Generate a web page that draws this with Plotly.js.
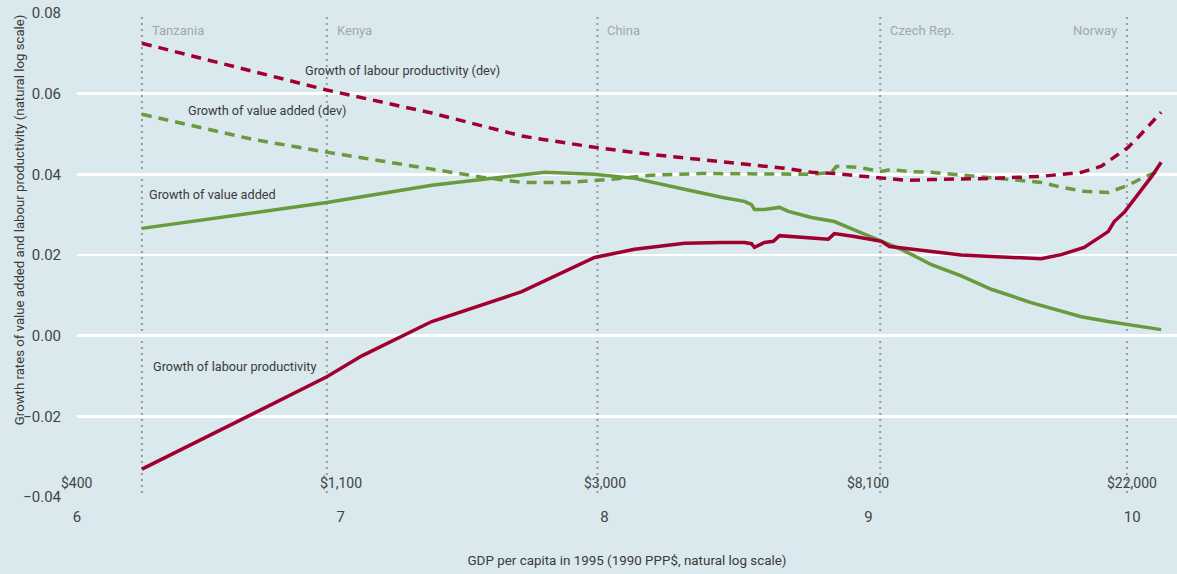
<!DOCTYPE html>
<html>
<head>
<meta charset="utf-8">
<script src="https://cdn.plot.ly/plotly-3.0.1.min.js"></script>
<style>
  html, body { margin: 0; padding: 0; background: #d9e9ee; }
  #chart { width: 1177px; height: 574px; }
</style>
</head>
<body>
<div id="chart"></div>
<script>
// ---- Data (x = natural log of GDP per capita, 1995) ----
const lpX = [6.246, 6.947, 7.080, 7.345, 7.686, 7.864, 7.962, 8.114, 8.303, 8.443, 8.530, 8.557, 8.568, 8.606, 8.640, 8.663, 8.746, 8.848, 8.871, 8.947, 9.049, 9.080, 9.201, 9.352, 9.466, 9.617, 9.655, 9.731, 9.818, 9.909, 9.932, 9.970, 10.023, 10.072, 10.110];
const lpY = [-0.0331, -0.0102, -0.0050, 0.0035, 0.0109, 0.0164, 0.0194, 0.0214, 0.0229, 0.0231, 0.0231, 0.0228, 0.0219, 0.0231, 0.0234, 0.0248, 0.0243, 0.0239, 0.0253, 0.0246, 0.0234, 0.0221, 0.0212, 0.0200, 0.0196, 0.0191, 0.0191, 0.0201, 0.0219, 0.0258, 0.0283, 0.0306, 0.0350, 0.0393, 0.0430];

const vaX = [6.246, 6.947, 7.345, 7.686, 7.773, 7.962, 8.114, 8.303, 8.443, 8.530, 8.557, 8.568, 8.606, 8.663, 8.697, 8.784, 8.871, 8.962, 9.049, 9.125, 9.201, 9.239, 9.352, 9.466, 9.617, 9.731, 9.807, 9.909, 9.985, 10.110];
const vaY = [0.0266, 0.0330, 0.0373, 0.0400, 0.0405, 0.0400, 0.0390, 0.0363, 0.0343, 0.0333, 0.0325, 0.0313, 0.0313, 0.0318, 0.0308, 0.0293, 0.0283, 0.0258, 0.0234, 0.0214, 0.0189, 0.0176, 0.0148, 0.0115, 0.0082, 0.0062, 0.0047, 0.0035, 0.0027, 0.0015];

const lpdX = [6.246, 6.663, 6.947, 7.345, 7.686, 7.761, 7.962, 8.140, 8.367, 8.583, 8.682, 8.784, 8.871, 8.947, 9.049, 9.152, 9.239, 9.466, 9.655, 9.807, 9.883, 9.932, 9.985, 10.023, 10.061, 10.110];
const lpdY = [0.0725, 0.0656, 0.0609, 0.0552, 0.0495, 0.0487, 0.0467, 0.0452, 0.0437, 0.0422, 0.0415, 0.0405, 0.0402, 0.0397, 0.0390, 0.0385, 0.0387, 0.0390, 0.0395, 0.0405, 0.0420, 0.0442, 0.0467, 0.0492, 0.0519, 0.0554];

const vadX = [6.246, 6.663, 6.947, 7.345, 7.534, 7.686, 7.864, 8.027, 8.178, 8.367, 8.583, 8.784, 8.860, 8.879, 8.962, 9.049, 9.087, 9.152, 9.239, 9.466, 9.655, 9.731, 9.818, 9.909, 9.985, 10.045, 10.110];
const vadY = [0.0549, 0.0487, 0.0455, 0.0412, 0.0393, 0.0380, 0.0380, 0.0388, 0.0398, 0.0402, 0.0402, 0.0400, 0.0405, 0.0420, 0.0417, 0.0407, 0.0412, 0.0407, 0.0405, 0.0392, 0.0380, 0.0368, 0.0358, 0.0355, 0.0373, 0.0393, 0.0410];

const countryNames = ["Tanzania", "Kenya", "China", "Czech Rep.", "Norway"];
const countryX = [6.246, 6.947, 7.973, 9.045, 9.98];

const tickVals = [6, 7, 8, 9, 10];
const dollarLabels = ["$400", "$1,100", "$3,000", "$8,100", "$22,000"];

const seriesLabels = ["Growth of labour productivity (dev)", "Growth of value added (dev)", "Growth of value added", "Growth of labour productivity"];
const seriesLabelX = [6.855, 6.413, 6.265, 6.280];
const seriesLabelY = [0.0658, 0.0558, 0.0350, -0.0077];

// ---- Styling ----
const FONT = "'Liberation Sans Narrow', 'Arial Narrow', Roboto, sans-serif";
const RED = "#a0002f";
const GREEN = "#6a9a3e";
const BG = "#d9e9ee";

const traces = [
  {x: vaX, y: vaY, mode: "lines", line: {color: GREEN, width: 3.5}},
  {x: vadX, y: vadY, mode: "lines", line: {color: GREEN, width: 3.5, dash: "10px,7px"}},
  {x: lpdX, y: lpdY, mode: "lines", line: {color: RED, width: 3.5, dash: "10px,7px"}},
  {x: lpX, y: lpY, mode: "lines", line: {color: RED, width: 3.5}}
];

const shapes = countryX.map(cx => ({
  type: "line", xref: "x", yref: "y", x0: cx, x1: cx, y0: 0.079, y1: -0.04,
  line: {color: "#9a9a9a", width: 2, dash: "2px,4px"}, layer: "below"
}));

const annotations = [];
countryNames.forEach((n, i) => {
  const right = (n === "Norway");
  annotations.push({
    x: countryX[i], y: 0.0757, xref: "x", yref: "y", text: n, showarrow: false,
    xanchor: right ? "right" : "left", xshift: right ? -8 : 8, yanchor: "middle",
    font: {family: FONT, size: 13, color: "#a3a7aa"}
  });
});
tickVals.forEach((v, i) => {
  annotations.push({
    x: v, y: -0.04, xref: "x", yref: "y", text: dollarLabels[i], showarrow: false,
    xanchor: "center", yanchor: "bottom", yshift: 4,
    font: {family: FONT, size: 14, color: "#444"}
  });
});
seriesLabels.forEach((t, i) => {
  annotations.push({
    x: seriesLabelX[i], y: seriesLabelY[i], xref: "x", yref: "y", text: t, showarrow: false,
    xanchor: "left", yanchor: "middle",
    font: {family: FONT, size: 12.7, color: "#3a3a3a"}
  });
});
annotations.push({
  x: 0, y: 0.572, xref: "paper", yref: "paper", xshift: -58, textangle: -90,
  text: "Growth rates of value added and labour productivity (natural log scale)",
  showarrow: false, xanchor: "center", yanchor: "middle",
  font: {family: FONT, size: 13.2, color: "#3a3a3a"}
});

const layout = {
  width: 1177, height: 574,
  margin: {l: 77, r: 0, t: 13, b: 77},
  paper_bgcolor: BG, plot_bgcolor: BG,
  showlegend: false,
  font: {family: FONT, size: 14, color: "#444"},
  xaxis: {
    range: [6, 10.17], tickvals: tickVals, ticktext: tickVals.map(String),
    showgrid: false, zeroline: false, showline: false,
    ticks: "outside", ticklen: 6, tickcolor: "rgba(0,0,0,0)",
    tickfont: {family: FONT, size: 15, color: "#444"},
    title: {text: "GDP per capita in 1995 (1990 PPP$, natural log scale)", standoff: 30,
            font: {family: FONT, size: 13.4, color: "#3a3a3a"}}
  },
  yaxis: {
    range: [-0.04, 0.08], tickvals: [-0.04, -0.02, 0, 0.02, 0.04, 0.06, 0.08],
    ticktext: ["\u22120.04", "\u22120.02", "0.00", "0.02", "0.04", "0.06", "0.08"],
    showgrid: true, gridcolor: "#ffffff", gridwidth: 2.5, zeroline: false, showline: false,
    ticks: "outside", ticklen: 12, tickcolor: "rgba(0,0,0,0)",
    tickfont: {family: FONT, size: 15, color: "#444"}
  },
  shapes: shapes,
  annotations: annotations
};

Plotly.newPlot("chart", traces, layout, {displayModeBar: false, staticPlot: true});
</script>
</body>
</html>
